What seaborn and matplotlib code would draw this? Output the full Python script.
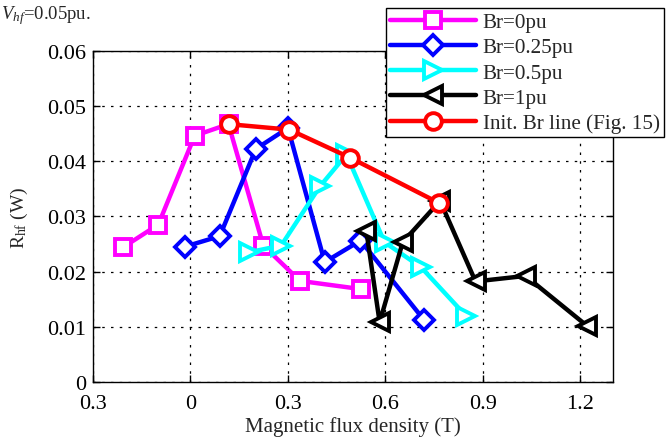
import numpy as np
import pandas as pd
import matplotlib
matplotlib.use('Agg')
import matplotlib.pyplot as plt
import seaborn as sns

# data
b_br0 = [-0.207, -0.099, 0.013, 0.117, 0.224, 0.337, 0.526]
r_br0 = [0.0244, 0.0285, 0.0446, 0.0467, 0.0247, 0.0183, 0.0168]

b_br025 = [-0.017, 0.090, 0.201, 0.300, 0.413, 0.523, 0.719]
r_br025 = [0.0245, 0.0264, 0.0422, 0.0460, 0.0217, 0.0256, 0.0112]

b_br05 = [0.181, 0.279, 0.398, 0.480, 0.597, 0.709, 0.847]
r_br05 = [0.0235, 0.0247, 0.0354, 0.0412, 0.0253, 0.0208, 0.0120]

b_br1 = [0.541, 0.582, 0.653, 0.768, 0.877, 1.031, 1.219]
r_br1 = [0.0274, 0.0108, 0.0253, 0.0328, 0.0182, 0.0192, 0.0102]

b_init = [0.117, 0.304, 0.492, 0.765]
r_init = [0.0467, 0.0457, 0.0406, 0.0324]

labels = ['Br=0pu', 'Br=0.25pu', 'Br=0.5pu', 'Br=1pu', 'Init. Br line (Fig. 15)']
xticks = [-0.3, 0, 0.3, 0.6, 0.9, 1.2]
xticklabels = ['0.3', '0', '0.3', '0.6', '0.9', '1.2']
yticks = [0, 0.01, 0.02, 0.03, 0.04, 0.05, 0.06]
yticklabels = ['0', '0.01', '0.02', '0.03', '0.04', '0.05', '0.06']

sns.set_style('ticks')
plt.rcParams['font.family'] = ['Liberation Serif', 'DejaVu Serif']
plt.rcParams['mathtext.fontset'] = 'custom'
plt.rcParams['mathtext.rm'] = 'Liberation Serif'
plt.rcParams['mathtext.it'] = 'Liberation Serif:italic'

series = [
    (b_br0, r_br0, '#ff00ff', 's'),
    (b_br025, r_br025, '#0000ff', 'D'),
    (b_br05, r_br05, '#00ffff', '>'),
    (b_br1, r_br1, '#000000', '<'),
    (b_init, r_init, '#ff0000', 'o'),
]

fig = plt.figure(figsize=(6.66, 4.39), dpi=100)
ax = fig.add_axes([0.1396, 0.1278, 0.7808, 0.7544])

for (bx, ry, col, mk), lab in zip(series, labels):
    df = pd.DataFrame({'B': bx, 'R': ry})
    ms = 12 if mk in ('s', 'o') else 13
    if mk == 'D':
        ms = 10
    sns.lineplot(data=df, x='B', y='R', sort=False, estimator=None, ax=ax,
                 color=col, lw=3.2, marker=mk, markersize=ms,
                 markerfacecolor='white', markeredgecolor=col,
                 markeredgewidth=2.8, label=lab)

ax.set_xlim(-0.3, 1.3)
ax.set_ylim(0, 0.06)
ax.set_xticks(xticks)
ax.set_xticklabels(xticklabels)
ax.set_yticks(yticks)
ax.set_yticklabels(yticklabels)
ax.grid(True, color='black', linestyle=(0, (2, 5)), linewidth=0.9)
ax.tick_params(direction='in', length=5, width=1, top=True, right=True,
               labelsize=16, colors='black')
ax.tick_params(axis='x', pad=9)
ax.tick_params(axis='y', pad=5)
for s in ax.spines.values():
    s.set_visible(True)
    s.set_linewidth(1)
    s.set_color('black')

ax.set_xlabel('Magnetic flux density (T)', fontsize=15, labelpad=2)
ax.set_ylabel(r'$\mathrm{R_{hf}}$ (W)', fontsize=14, labelpad=12)

fig.text(0.002, 0.965, r'$V_{hf}$=0.05pu.', fontsize=13.5, ha='left', va='center')

leg = ax.legend(loc='upper right', bbox_to_anchor=(664 / 666, 1 - 9 / 439),
                bbox_transform=fig.transFigure, fontsize=15.2, frameon=True,
                fancybox=False, framealpha=1, edgecolor='black',
                handlelength=4.1, handletextpad=0.3, labelspacing=0.26,
                borderpad=0.2, borderaxespad=0)
leg.get_frame().set_linewidth(1)

fig.savefig('out.png', dpi=100)
